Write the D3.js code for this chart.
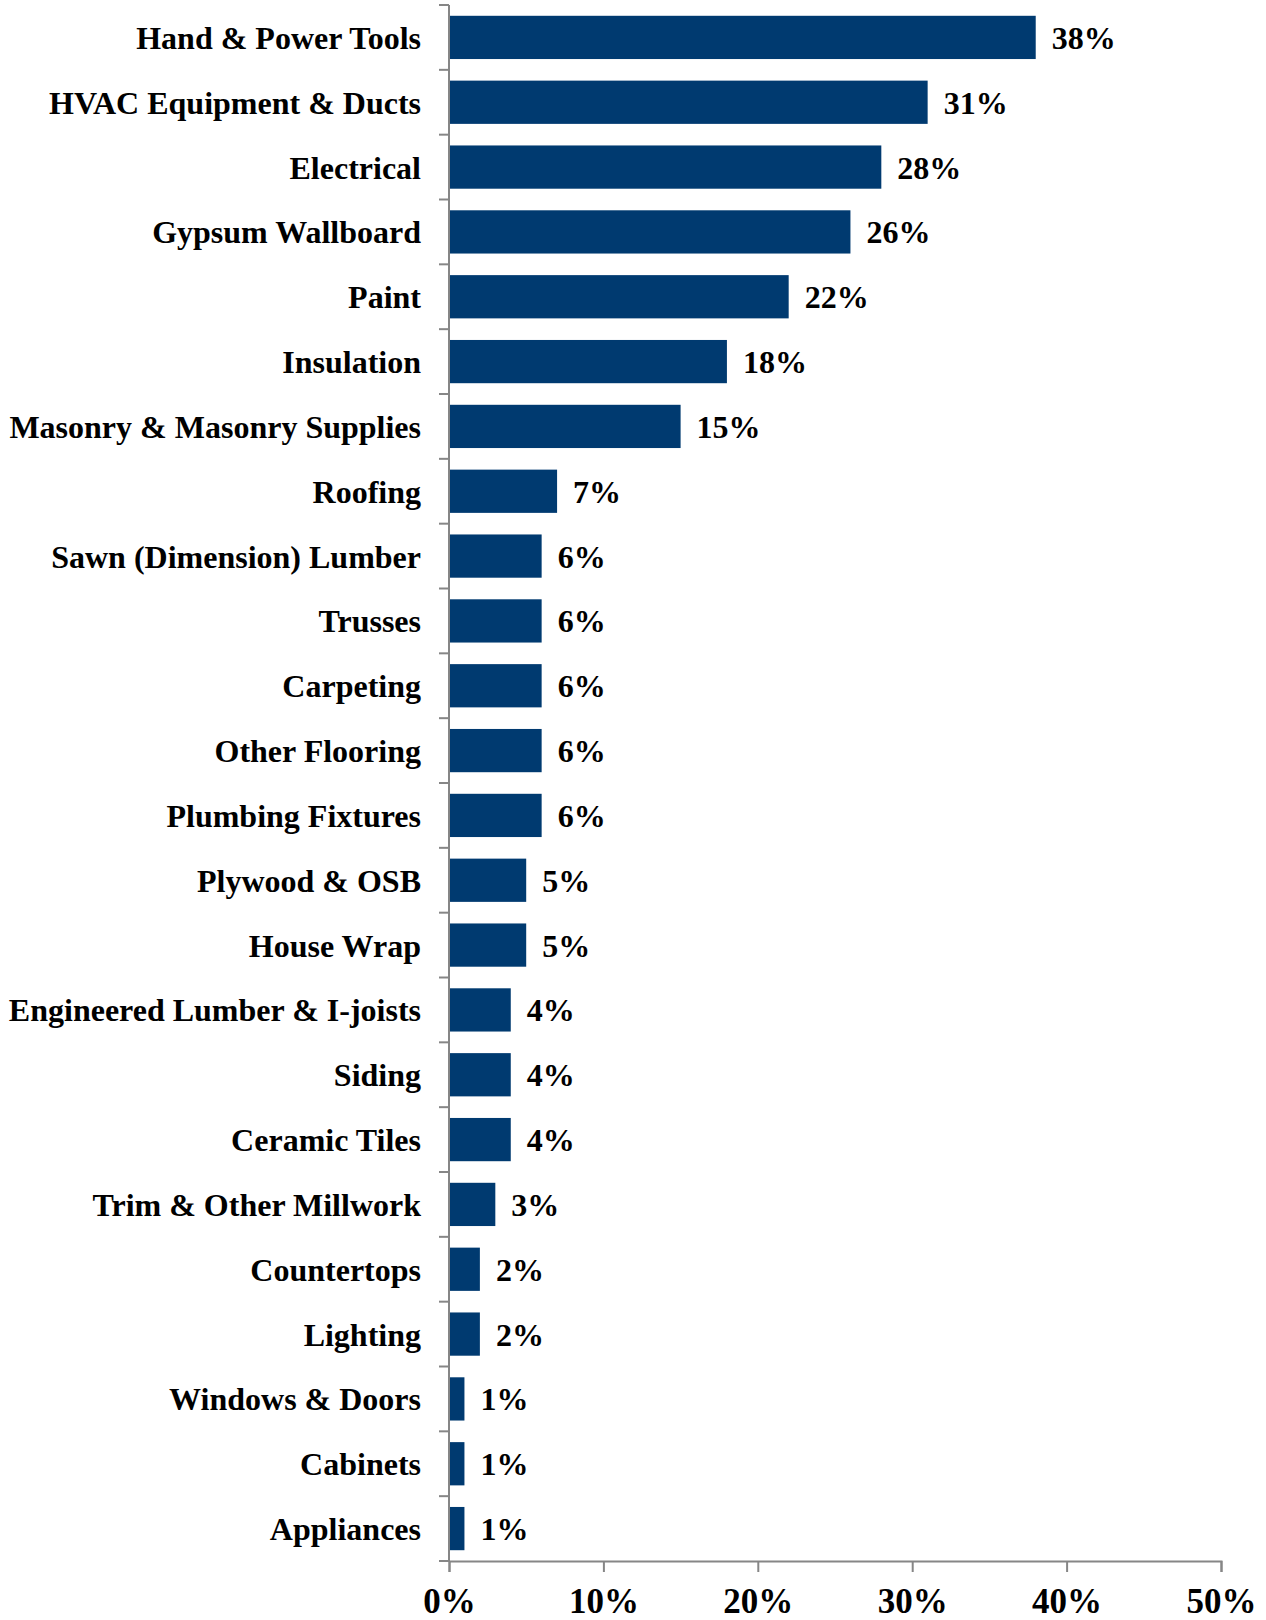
<!DOCTYPE html>
<html>
<head>
<meta charset="UTF-8">
<title></title>
<style>
  body { margin: 0; background: #fff; }
  svg text { font-family: "Liberation Serif", "Times New Roman", serif; font-weight: bold; fill: #000; }
</style>
</head>
<body>
<div id="chart"></div>
<script src="https://cdn.jsdelivr.net/npm/d3@7"></script>
<script>
var categories = ["Hand & Power Tools", "HVAC Equipment & Ducts", "Electrical", "Gypsum Wallboard",
  "Paint", "Insulation", "Masonry & Masonry Supplies", "Roofing", "Sawn (Dimension) Lumber",
  "Trusses", "Carpeting", "Other Flooring", "Plumbing Fixtures", "Plywood & OSB", "House Wrap",
  "Engineered Lumber & I-joists", "Siding", "Ceramic Tiles", "Trim & Other Millwork",
  "Countertops", "Lighting", "Windows & Doors", "Cabinets", "Appliances"];
var values = [38, 31, 28, 26, 22, 18, 15, 7, 6, 6, 6, 6, 6, 5, 5, 4, 4, 4, 3, 2, 2, 1, 1, 1];
var xTicks = [0, 10, 20, 30, 40, 50];

var width = 1266,
    height = 1620,
    margin = { top: 5, right: 45, bottom: 59, left: 449 };

var svg = d3.select("#chart")
  .append("svg")
  .attr("width", width)
  .attr("height", height);

var x = d3.scaleLinear()
  .domain([0, 50])
  .range([margin.left, width - margin.right]);

var y = d3.scaleBand()
  .domain(categories)
  .range([margin.top, height - margin.bottom])
  .paddingInner(0.333)
  .paddingOuter(0.1665);

// bars
svg.append("g")
  .selectAll("rect")
  .data(values)
  .join("rect")
  .attr("x", x(0))
  .attr("y", function(d, i) { return y(categories[i]); })
  .attr("width", function(d) { return x(d) - x(0); })
  .attr("height", y.bandwidth())
  .attr("fill", "#003a70");

// value labels
svg.append("g")
  .selectAll("text")
  .data(values)
  .join("text")
  .attr("x", function(d) { return x(d) + 16; })
  .attr("y", function(d, i) { return y(categories[i]) + y.bandwidth() / 2; })
  .attr("dy", "0.36em")
  .attr("font-size", "32px")
  .text(function(d) { return d + "%"; });

// y axis: ticks between categories
var step = y.step();
var yAxisG = svg.append("g");
yAxisG.append("line")
  .attr("x1", x(0)).attr("x2", x(0))
  .attr("y1", margin.top).attr("y2", height - margin.bottom)
  .attr("stroke", "#868686").attr("stroke-width", 2);
yAxisG.selectAll("line.tick")
  .data(d3.range(categories.length + 1))
  .join("line")
  .attr("class", "tick")
  .attr("x1", x(0) - 10).attr("x2", x(0))
  .attr("y1", function(i) { return margin.top + i * step; })
  .attr("y2", function(i) { return margin.top + i * step; })
  .attr("stroke", "#868686").attr("stroke-width", 2);
yAxisG.selectAll("text")
  .data(categories)
  .join("text")
  .attr("x", x(0) - 28)
  .attr("y", function(d) { return y(d) + y.bandwidth() / 2; })
  .attr("dy", "0.36em")
  .attr("text-anchor", "end")
  .attr("font-size", "32px")
  .text(function(d) { return d; });

// x axis
var xAxis = d3.axisBottom(x)
  .tickValues(xTicks)
  .tickSize(11)
  .tickPadding(16)
  .tickFormat(function(d) { return d + "%"; });
var xAxisG = svg.append("g")
  .attr("transform", "translate(0," + (height - margin.bottom) + ")")
  .call(xAxis);
xAxisG.select(".domain").attr("stroke", "#868686").attr("stroke-width", 2);
xAxisG.selectAll(".tick line").attr("stroke", "#868686").attr("stroke-width", 2);
xAxisG.selectAll(".tick text")
  .attr("font-size", "35px")
  .attr("font-family", "Liberation Serif")
  .attr("font-weight", "bold")
  .attr("fill", "#000");
</script>
</body>
</html>
